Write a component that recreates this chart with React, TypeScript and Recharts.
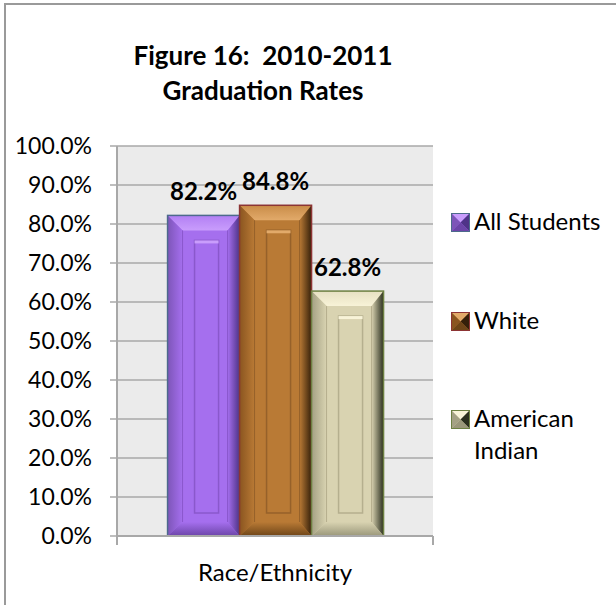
import React from "react";
import { BarChart, Bar, XAxis, YAxis, CartesianGrid, Legend, LabelList } from "recharts";

const categories = ["Race/Ethnicity"];
const seriesNames = ["All Students", "White", "American Indian"];
const allStudents = [0.822];
const white = [0.848];
const americanIndian = [0.628];
const yTicks = [0, 0.1, 0.2, 0.3, 0.4, 0.5, 0.6, 0.7, 0.8, 0.9, 1.0];

const seriesKeys = ["allStudents", "white", "americanIndian"];

const data = categories.map((c, i) => ({
  category: c,
  allStudents: allStudents[i],
  white: white[i],
  americanIndian: americanIndian[i],
}));

const FONT = 'Lato, "Liberation Sans", sans-serif';
const GRID = "#a8a8a8";
const LEGEND_W = 165;

type Pal = {
  id: string;
  main: string;
  top: string;
  topHi: string;
  leftOuter: string;
  rightOuter: string;
  bottom: string;
  border: string;
  line: string;
};

const palettes: Pal[] = [
  { id: "pu", main: "#a56fee", top: "#b27ff4", topHi: "#c99dfc", leftOuter: "#7d55b8", rightOuter: "#4f3388", bottom: "#6c45a8", border: "#4d6a8c", line: "#8a58cc" },
  { id: "br", main: "#b97a35", top: "#c98c48", topHi: "#e2aa6a", leftOuter: "#8a5520", rightOuter: "#35200a", bottom: "#6e4518", border: "#8c3434", line: "#96612a" },
  { id: "be", main: "#d9d3b1", top: "#e6e0c2", topHi: "#f8f3d8", leftOuter: "#a4a184", rightOuter: "#2b2f1f", bottom: "#9a977a", border: "#6d8042", line: "#b5af8e" },
];

const pct = (v: number) => (v * 100).toFixed(1) + "%";

const bevel = (p: Pal) => (props: any) => {
  const { x, y, width: w, height: h } = props;
  if (!w || !h) return null;
  const bt = 15, bl = 15, br = 12, bb = 14;
  const ix = x + 27, iy = y + 25, iw = w - 48, ih = h - 48;
  return (
    <g>
      <defs>
        <linearGradient id={`l-${p.id}`} x1="0" y1="0" x2="1" y2="0">
          <stop offset="0" stopColor={p.leftOuter} />
          <stop offset="1" stopColor={p.main} />
        </linearGradient>
        <linearGradient id={`r-${p.id}`} x1="0" y1="0" x2="1" y2="0">
          <stop offset="0" stopColor={p.main} />
          <stop offset="1" stopColor={p.rightOuter} />
        </linearGradient>
        <linearGradient id={`t-${p.id}`} x1="0" y1="0" x2="0" y2="1">
          <stop offset="0" stopColor={p.top} />
          <stop offset="1" stopColor={p.topHi} />
        </linearGradient>
        <linearGradient id={`b-${p.id}`} x1="0" y1="0" x2="0" y2="1">
          <stop offset="0" stopColor={p.main} />
          <stop offset="1" stopColor={p.bottom} />
        </linearGradient>
      </defs>
      <rect x={x} y={y} width={w} height={h} fill={p.main} />
      <polygon points={`${x},${y} ${x + w},${y} ${x + w - br},${y + bt} ${x + bl},${y + bt}`} fill={`url(#t-${p.id})`} />
      <polygon points={`${x},${y} ${x + bl},${y + bt} ${x + bl},${y + h - bb} ${x},${y + h}`} fill={`url(#l-${p.id})`} />
      <polygon points={`${x + w},${y} ${x + w - br},${y + bt} ${x + w - br},${y + h - bb} ${x + w},${y + h}`} fill={`url(#r-${p.id})`} />
      <polygon points={`${x},${y + h} ${x + bl},${y + h - bb} ${x + w - br},${y + h - bb} ${x + w},${y + h}`} fill={`url(#b-${p.id})`} />
      <line x1={x + bl} y1={y + bt} x2={x + bl} y2={y + h - bb} stroke={p.line} strokeWidth={1} />
      <line x1={x + w - br} y1={y + bt} x2={x + w - br} y2={y + h - bb} stroke={p.line} strokeWidth={1} />
      {ih > 0 && iw > 0 && (
        <g>
          <rect x={ix} y={iy} width={iw} height={ih} fill="none" stroke={p.line} strokeWidth={1.5} />
          <line x1={ix} y1={iy + 1.5} x2={ix + iw} y2={iy + 1.5} stroke={p.topHi} strokeWidth={3} />
        </g>
      )}
      <rect x={x} y={y} width={w} height={h} fill="none" stroke={p.border} strokeWidth={1.5} />
    </g>
  );
};

const LegendIcon = ({ p }: { p: Pal }) => (
  <svg width={19} height={19} style={{ display: "block" }}>
    <rect x={0.5} y={0.5} width={18} height={18} fill={p.main} stroke={p.border} />
    <polygon points="1,1 18,1 9.5,9.5" fill={p.topHi} />
    <polygon points="1,1 9.5,9.5 1,18" fill={p.leftOuter} />
    <polygon points="18,1 9.5,9.5 18,18" fill={p.rightOuter} />
    <polygon points="1,18 9.5,9.5 18,18" fill={p.bottom} />
  </svg>
);

const renderLegend = () => (
  <div style={{ fontFamily: FONT, fontSize: 24, color: "#000" }}>
    {seriesNames.map((name, i) => (
      <div key={name} style={{ display: "flex", alignItems: "flex-start", height: 98.5 }}>
        <div style={{ marginTop: 8, marginRight: 4 }}>
          <LegendIcon p={palettes[i]} />
        </div>
        <div style={{ width: 140, lineHeight: "32px" }}>{name}</div>
      </div>
    ))}
  </div>
);

const XTick = (props: any) => {
  const { x, y, payload } = props;
  const half = payload && payload.offset ? payload.offset : (props.width || 316) / 2;
  const axisY = y - 29;
  return (
    <g>
      <line x1={x - half} y1={axisY} x2={x - half} y2={axisY + 9} stroke={GRID} strokeWidth={2} />
      <line x1={x + half} y1={axisY} x2={x + half} y2={axisY + 9} stroke={GRID} strokeWidth={2} />
      <text x={x} y={y + 16} textAnchor="middle" fontFamily={FONT} fontSize={24} fill="#000">
        {payload.value}
      </text>
    </g>
  );
};

export default function App() {
  return (
    <div style={{ position: "absolute", left: 0, top: 0, width: 616, height: 605, overflow: "hidden", background: "#fff" }}>
      <div style={{ position: "absolute", left: 4, top: 3, width: 700, height: 700, borderLeft: "2px solid #9a9a9a", borderTop: "2px solid #9a9a9a" }} />
      <div
        style={{
          position: "absolute",
          left: 63,
          width: 400,
          top: 38,
          textAlign: "center",
          fontFamily: FONT,
          fontWeight: "bold",
          fontSize: 26,
          lineHeight: "35px",
          color: "#000",
        }}
      >
        Figure 16:&nbsp; 2010-2011
        <br />
        Graduation Rates
      </div>
      <div style={{ position: "absolute", left: 0, top: 0 }}>
        <BarChart
          width={616}
          height={605}
          data={data}
          margin={{ top: 146, right: 183 - LEGEND_W, bottom: 0, left: 0 }}
          barCategoryGap="16%"
          barGap={0}
        >
          <CartesianGrid vertical={false} stroke={GRID} strokeWidth={1.5} fill="#ebebeb" />
          <XAxis
            dataKey="category"
            height={69}
            axisLine={{ stroke: GRID, strokeWidth: 2 }}
            tickLine={false}
            tickSize={9}
            tickMargin={20}
            tick={<XTick />}
          />
          <YAxis
            width={117}
            domain={[0, 1]}
            ticks={yTicks}
            interval={0}
            tickFormatter={pct}
            axisLine={{ stroke: GRID, strokeWidth: 2 }}
            tickLine={{ stroke: GRID, strokeWidth: 1.5 }}
            tickSize={7}
            tickMargin={18}
            tick={{ fontFamily: FONT, fontSize: 23, fill: "#000" }}
          />
          <Legend
            layout="horizontal"
            verticalAlign="middle"
            align="right"
            content={renderLegend}
            wrapperStyle={{ left: 451, top: 205, width: LEGEND_W }}
          />
          {seriesKeys.map((k, i) => (
            <Bar
              key={k}
              dataKey={k}
              name={seriesNames[i]}
              fill={palettes[i].main}
              shape={bevel(palettes[i])}
              isAnimationActive={false}
            >
              <LabelList
                dataKey={k}
                position="top"
                offset={15}
                formatter={(v: any) => pct(Number(v))}
                style={{ fontFamily: FONT, fontSize: 24, fontWeight: "bold", fill: "#000" }}
              />
            </Bar>
          ))}
        </BarChart>
      </div>
    </div>
  );
}
